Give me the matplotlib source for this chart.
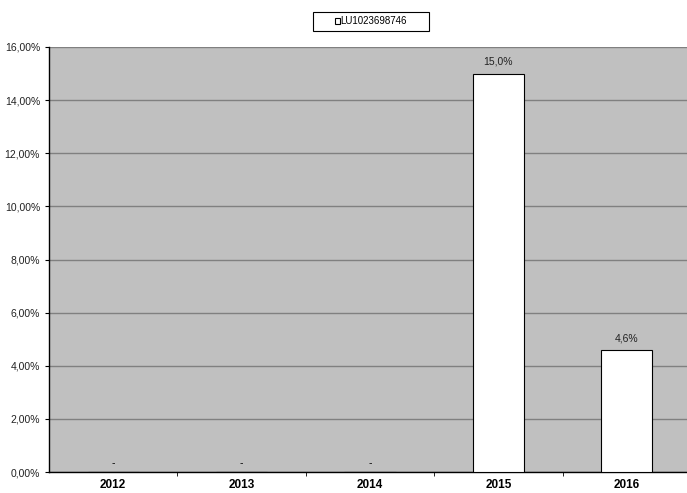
import matplotlib
matplotlib.use("Agg")
import matplotlib.pyplot as plt
import numpy as np
from matplotlib.patches import Rectangle
from matplotlib.ticker import FuncFormatter

plt.rcParams["font.family"] = ["Liberation Sans", "DejaVu Sans"]

years = ["2012", "2013", "2014", "2015", "2016"]
values = [None, None, None, 15.0, 4.6]
series_name = "LU1023698746"

fig = plt.figure(figsize=(6.87, 4.93), dpi=100)
ax = fig.add_axes([49 / 687, 21 / 493, 642 / 687, 425 / 493])
ax.set_facecolor("#c0c0c0")

x = np.arange(len(years))
heights = [v if v is not None else 0 for v in values]
bars = ax.bar(x, heights, width=0.4, color="white", edgecolor="black", linewidth=0.8,
              label=series_name, zorder=3)

for xi, v in zip(x, values):
    if v is None:
        ax.text(xi, 0.35, "-", ha="center", va="center", fontsize=7.5)
    else:
        ax.text(xi, v + 0.25, f"{v:.1f}%".replace(".", ","), ha="center", va="bottom",
                fontsize=7.5, color="#222222")

ax.set_xlim(-0.5, len(years) - 0.5)
ax.set_ylim(0, 16)
ax.set_yticks(np.arange(0, 17, 2))
ax.yaxis.set_major_formatter(FuncFormatter(lambda v, p: f"{v:.2f}%".replace(".", ",")))
ax.grid(axis="y", color="#808080", linewidth=1.0, zorder=1)
ax.set_xticks(x)
ax.set_xticklabels(years, fontweight="bold", fontsize=8.5)
ax.set_xticks(np.arange(0.5, len(years) - 0.5, 1), minor=True)
ax.tick_params(axis="x", which="major", length=0, pad=5)
ax.tick_params(axis="x", which="minor", length=3, direction="out")
ax.tick_params(axis="y", length=3, direction="out", labelsize=7.5, labelcolor="#222222")

for side in ["top", "right"]:
    ax.spines[side].set_visible(False)
ax.spines["left"].set_linewidth(1.0)
ax.spines["bottom"].set_linewidth(1.0)

# legend box drawn as a plain frame, legend itself without frame
fig.patches.append(Rectangle((313 / 687, 1 - 31 / 493), 116 / 687, 19 / 493,
                             transform=fig.transFigure, facecolor="white",
                             edgecolor="black", linewidth=0.8, zorder=5))
leg = fig.legend(handles=[bars], labels=[series_name], loc="center",
                 bbox_to_anchor=(371 / 687, 1 - 21.5 / 493), fontsize=7, frameon=False,
                 handlelength=0.5, handleheight=0.5, handletextpad=0.1, borderaxespad=0)
leg.set_zorder(6)

fig.savefig("out.png", dpi=100)
